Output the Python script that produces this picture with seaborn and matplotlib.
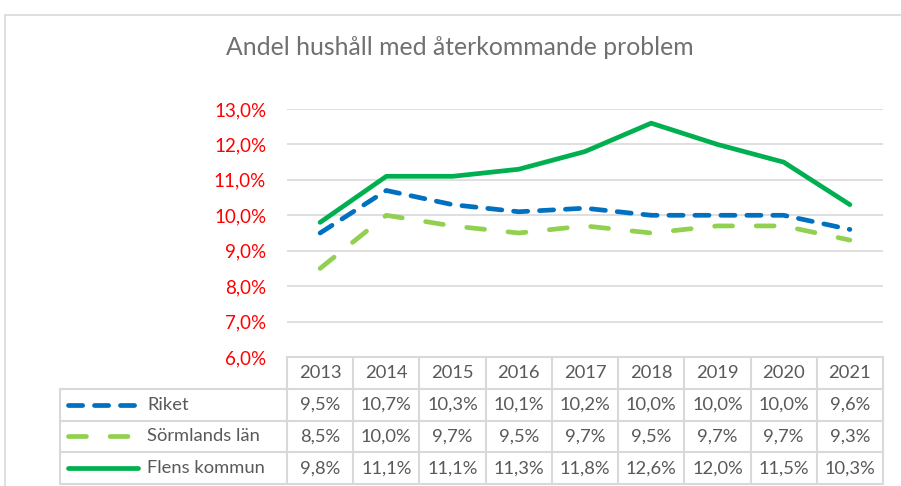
import numpy as np
import pandas as pd
import matplotlib
matplotlib.use("Agg")
import matplotlib.pyplot as plt
from matplotlib.lines import Line2D
from matplotlib.patches import Rectangle
import seaborn as sns

# data
years = ["2013", "2014", "2015", "2016", "2017", "2018", "2019", "2020", "2021"]
riket = [9.5, 10.7, 10.3, 10.1, 10.2, 10.0, 10.0, 10.0, 9.6]
sormland = [8.5, 10.0, 9.7, 9.5, 9.7, 9.5, 9.7, 9.7, 9.3]
flen = [9.8, 11.1, 11.1, 11.3, 11.8, 12.6, 12.0, 11.5, 10.3]
series_names = ["Riket", "Sörmlands län", "Flens kommun"]
yticks = [6, 7, 8, 9, 10, 11, 12, 13]

colors = {"Riket": "#0070C0", "Sörmlands län": "#92D050", "Flens kommun": "#00B050"}
dashes = {"Riket": (3.0, 2.5), "Sörmlands län": (3.8, 5.0), "Flens kommun": ""}
lw = 3.4

sns.set_style("white")
plt.rcParams["font.family"] = ["Lato", "DejaVu Sans"]
txt_col = "#595959"
grid_col = "#D9D9D9"

W, H = 901, 486
fig = plt.figure(figsize=(W / 100, H / 100), dpi=100)

def box(l, t, r, b):
    return [l / W, 1 - b / H, (r - l) / W, (b - t) / H]

# outer chart border
fig.patches.append(Rectangle((5 / W, -0.2), 1.2, 1.2 - 15 / H, transform=fig.transFigure,
                             fill=False, edgecolor=grid_col, linewidth=1.2))

fig.text(460 / W, 1 - 47 / H, "Andel hushåll med återkommande problem", ha="center", va="center",
         fontsize=17.8, color="#707070")

# plot area
ax = fig.add_axes(box(287, 109, 883, 357))
df = pd.DataFrame({
    "x": list(range(len(years))) * 3,
    "v": riket + sormland + flen,
    "serie": [s for s in series_names for _ in years],
})
sns.lineplot(data=df, x="x", y="v", hue="serie", style="serie", palette=colors, dashes=dashes,
             linewidth=lw, dash_capstyle="round", solid_capstyle="round", legend=False, ax=ax)
ax.set_xlim(-0.5, len(years) - 0.5)
ax.set_ylim(6, 13)
ax.set_yticks(yticks)
ax.set_yticklabels([f"{t:.1f}%".replace(".", ",") for t in yticks], color="#FF0000", fontsize=13.5)
ax.tick_params(axis="y", length=0, pad=15)
ax.set_xticks([])
ax.set_xlabel("")
ax.set_ylabel("")
ax.grid(axis="y", color=grid_col, linewidth=1.2)
for s in ax.spines.values():
    s.set_visible(False)

# data table
tb = fig.add_axes(box(287, 357, 883, 484))
tb.set_xlim(-0.5, len(years) - 0.5)
tb.set_ylim(4, 0)
tb.axis("off")
left = -0.5 - (287 - 60) / ((883 - 287) / len(years))
lkw = dict(color=grid_col, linewidth=1.5, clip_on=False)
for r in range(5):
    tb.plot([-0.5 if r == 0 else left, len(years) - 0.5], [r, r], **lkw)
for c in range(len(years) + 1):
    tb.plot([c - 0.5, c - 0.5], [0, 4], **lkw)
tb.plot([left, left], [1, 4], **lkw)

fs = 13.2
for i, y in enumerate(years):
    tb.text(i, 0.5, y, ha="center", va="center", fontsize=fs, color=txt_col)
for r, (name, vals) in enumerate(zip(series_names, [riket, sormland, flen]), start=1):
    for i, v in enumerate(vals):
        tb.text(i, r + 0.5, f"{v:.1f}%".replace(".", ","), ha="center", va="center",
                fontsize=fs, color=txt_col)
    x0 = left + 0.12
    key = Line2D([x0, x0 + 1.06], [r + 0.5, r + 0.5], color=colors[name], linewidth=lw,
                 dash_capstyle="round", solid_capstyle="round", clip_on=False)
    if dashes[name]:
        key.set_dashes(dashes[name])
    tb.add_line(key)
    tb.text(x0 + 1.2, r + 0.5, name, ha="left", va="center", fontsize=fs, color=txt_col)

fig.savefig("out.png", dpi=100)
